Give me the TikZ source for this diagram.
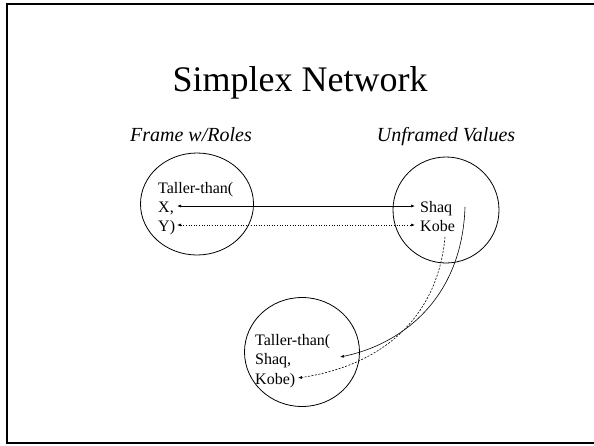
\documentclass[tikz,border=0pt]{standalone}
\usepackage{fontspec}
\setmainfont{Liberation Serif}
\usetikzlibrary{arrows.meta}
\begin{document}
\begin{tikzpicture}[x=1pt,y=-1pt,
  lbl/.style={anchor=base west,inner sep=0pt,font=\fontsize{16}{19}\selectfont},
  head/.style={anchor=base,inner sep=0pt,font=\fontsize{20}{24}\selectfont\itshape},
  tip/.style={-{Latex[length=4pt,width=3pt]}},
  both/.style={{Latex[length=4pt,width=3pt]}-{Latex[length=4pt,width=3pt]}},
  link/.style={line width=0.6pt},
  ring/.style={line width=0.8pt}]
\useasboundingbox (0,0) rectangle (594,445);
\begin{scope}
\clip (0,0) rectangle (594,445);
\draw[line width=2pt] (600,4) -- (7,4) -- (7,442.5) -- (600,442.5);
\end{scope}
\node[anchor=base,inner sep=0pt,font=\fontsize{36}{40}\selectfont] (title) at (300,91) {Simplex Network};
\node[head] (h1) at (191,141) {Frame w/Roles};
\node[head] (h2) at (446,141) {Unframed Values};
% circles
\draw[ring] (197,204) ellipse [x radius=56.5, y radius=51];
\draw[ring] (446,210) ellipse [x radius=53, y radius=53];
\draw[ring] (302,352) ellipse [x radius=57.5, y radius=54.5];
% left texts
\node[lbl] (t1) at (158,193) {Taller-than(};
\node[lbl] (tx) at (158,212) {X,};
\node[lbl] (ty) at (158,231) {Y)};
% right texts
\node[lbl] (shaq) at (420,212) {Shaq};
\node[lbl] (kobe) at (420,231) {Kobe};
% bottom texts
\node[lbl] (b1) at (255,345) {Taller-than(};
\node[lbl] (b2) at (255,364) {Shaq,};
\node[lbl] (b3) at (255,384) {Kobe)};
% connector ends
\coordinate (pX) at (177,206);
\coordinate (pY) at (177,225);
\coordinate (pS) at (415,206);
\coordinate (pK) at (415,225);
\coordinate (sS) at (465,207);
\coordinate (sK) at (445,237);
\coordinate (eS) at (340,357);
\coordinate (eK) at (298,378);
\draw[both,link] (pX) -- (pS);
\draw[both,link,dotted] (pY) -- (pK);
\draw[tip,link] (sS) .. controls (462,300) and (400,345) .. (eS);
\draw[tip,link,dash pattern=on 2pt off 1.5pt] (sK) .. controls (438,315) and (385,365) .. (eK);
\end{tikzpicture}
\end{document}
